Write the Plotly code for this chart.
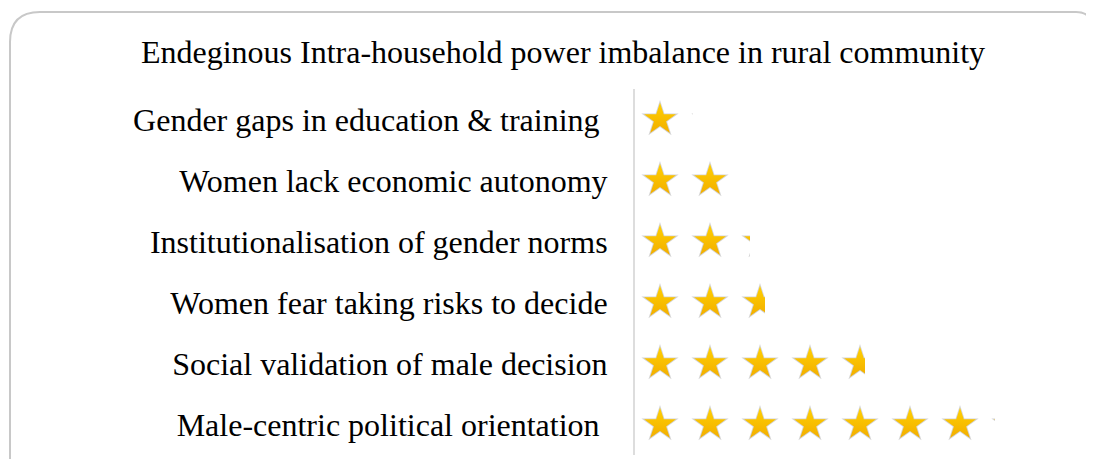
import math
import plotly.graph_objects as go

# categories top -> bottom, values in % (one star = 10 %)
categories = [
    "Gender gaps in education & training ",
    "Women lack economic autonomy",
    "Institutionalisation of gender norms",
    "Women fear taking risks to decide",
    "Social validation of male decision",
    "Male-centric political orientation ",
]
values = [11.5, 20, 23, 26, 46, 72]
star_unit = 10
x_max = 90

# star positions: one star per unit cell, clipped later at the value
star_x, star_y = [], []
for cat, v in zip(categories, values):
    for k in range(math.ceil(v / star_unit)):
        star_x.append(k * star_unit + star_unit / 2)
        star_y.append(cat)

fig = go.Figure()

# soft shadow under each star
fig.add_trace(
    go.Scatter(
        x=star_x,
        y=star_y,
        mode="markers",
        marker=dict(symbol="star", size=28, color="rgba(60,60,60,0.22)", line=dict(width=0)),
        hoverinfo="skip",
        showlegend=False,
    )
)
fig.add_trace(
    go.Scatter(
        x=star_x,
        y=star_y,
        mode="markers",
        marker=dict(
            symbol="star",
            size=24,
            color="#FFD000",
            gradient=dict(type="vertical", color="#F2AE00"),
            line=dict(width=0),
        ),
        showlegend=False,
    )
)

# white mask on an overlaying axis hides everything past each value
fig.add_trace(
    go.Bar(
        y=categories,
        x=[x_max - v for v in values],
        base=values,
        orientation="h",
        width=1,
        marker=dict(color="white", line=dict(width=0)),
        xaxis="x2",
        hoverinfo="skip",
        showlegend=False,
    )
)

# page body adds an 8px offset, so figure pixels = screen pixels - 8
OFF = 8
W, H = 1094, 459
L, T = 635 - OFF, 89 - OFF
pw, ph = 450, 366
R = W - L - pw
B = H - T - ph


def px(x):
    return (x - OFF - L) / pw


def py(y):
    return (T + ph - (y - OFF)) / ph


x0, x1, y0, y1 = 10, 1092, 12, 480
rl, rr = 30, 16
path = (
    f"M {px(x0)},{py(y1)} L {px(x0)},{py(y0 + rl)} "
    f"Q {px(x0)},{py(y0)} {px(x0 + rl)},{py(y0)} "
    f"L {px(x1 - rr)},{py(y0)} "
    f"Q {px(x1)},{py(y0)} {px(x1)},{py(y0 + rr)} "
    f"L {px(x1)},{py(y1)}"
)
fig.add_shape(
    type="path",
    path=path,
    xref="paper",
    yref="paper",
    line=dict(color="#c8c8c8", width=2),
    layer="below",
)

fig.update_layout(
    width=W,
    height=H,
    margin=dict(l=L, r=R, t=T, b=B),
    paper_bgcolor="white",
    plot_bgcolor="white",
    font=dict(family="Liberation Serif, Times New Roman, serif", size=32, color="black"),
    title=dict(
        text="Endeginous Intra-household power imbalance in rural community",
        x=(563 - OFF) / W,
        xanchor="center",
        y=1 - (52 - OFF) / H,
        yanchor="middle",
        font=dict(size=32),
    ),
    xaxis=dict(range=[0, x_max], visible=False, fixedrange=True),
    xaxis2=dict(range=[0, x_max], overlaying="x", visible=False, fixedrange=True),
    yaxis=dict(
        categoryorder="array",
        categoryarray=categories[::-1],
        range=[-0.5, len(categories) - 0.5],
        showline=True,
        linecolor="#dddddd",
        linewidth=2,
        showgrid=False,
        zeroline=False,
        ticks="",
        ticklabelstandoff=19,
        fixedrange=True,
    ),
    bargap=0,
)

fig.write_html("out.html")
